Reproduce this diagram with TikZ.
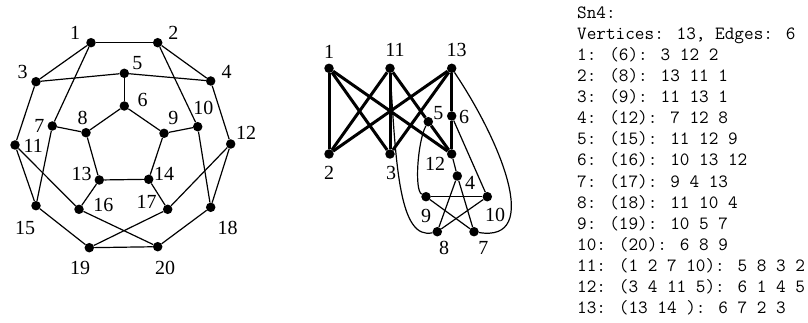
\documentclass[tikz,border=0pt]{standalone}
\usepackage{fontspec}
\newfontfamily\labfont{Liberation Serif}
\begin{document}
\begin{tikzpicture}[x=1pt,y=-1pt,
  dot/.style={circle,fill=black,inner sep=0pt,minimum size=9.5pt},
  lab/.style={font=\labfont\fontsize{20}{20}\selectfont,inner sep=0pt},
  ln/.style={line width=1.2pt},
  thk/.style={line width=3pt},
  txt/.style={font=\ttfamily\fontsize{18.7}{21}\selectfont,inner sep=0pt,anchor=base west}]
\useasboundingbox (0,0) rectangle (808,323);
% ---------- left graph ----------
\foreach \n/\x/\y in {1/91/42.7,2/157.7/42.7,3/36/81.7,4/210.7/81,5/124.3/73.3,6/124.3/106,
  7/52.3/126,8/86/132.7,9/164/133.3,10/197.7/126.7,11/15/145,12/230.7/144,13/99.3/180,
  14/148.7/179.3,15/36/205.7,16/79/209.3,17/167.7/209.3,18/210.7/207.3,19/89.3/247.7,20/157.7/246.7}
  \node[dot] (a\n) at (\x,\y) {};
\foreach \u/\v in {1/2,1/3,1/7,2/4,2/10,3/5,5/4,5/6,6/8,6/9,8/7,9/10,8/13,9/14,13/14,13/16,14/17,
  3/11,4/12,7/15,10/18,11/15,11/16,16/20,12/17,17/19,12/18,15/19,18/20,19/20}
  \draw[ln] (a\u) -- (a\v);
\foreach \n/\x/\y in {1/75/33.3,2/173.3/33.3,3/22.7/71.7,5/137.3/63.3,4/226.7/71.7,6/142.7/100,
  8/82.7/117.7,9/173.3/118.3,10/203.3/108.3,7/39.3/126,11/33.3/146,12/246/132.7,13/81.7/174.3,
  14/164/174,16/103.3/205,17/146.7/201.7,15/25/228.3,18/227.7/228.3,19/80/268.3,20/165/268.3}
  \node[lab] (la\n) at (\x,\y) {\n};
% ---------- middle graph ----------
\foreach \n/\x/\y in {1/329/68.3,11/390/68.3,13/451.7/68.3,2/329/154,3/390/154,12/451.7/154,
  5/428.3/121.7,6/451.7/116,4/457.3/176,9/426/196.7,10/487.3/196.7,8/437.3/231.7,7/474/231.7}
  \node[dot] (b\n) at (\x,\y) {};
\foreach \u/\v in {1/2,1/3,1/12,11/2,11/3,11/5,5/12,13/2,13/3,13/6,6/12}
  \draw[thk] (b\u) -- (b\v);
\foreach \u/\v in {12/4,4/7,4/8,9/10,9/7,10/8,6/10}
  \draw[ln] (b\u) -- (b\v);
\draw[ln] (b11) .. controls (396,170) and (400,240) .. (b8);
\draw[ln] (b13) .. controls (500,140) and (543,243) .. (b7);
\draw[ln] (b5) .. controls (418,140) and (414,190) .. (b9);
\foreach \n/\x/\y in {1/329/51.7,11/395/50,13/456.7/50,2/329/172.7,3/391/172.7,12/435/164,
  5/438.3/112.7,6/464/117.3,4/470/182.7,9/426/216,10/495/215,8/444/248.3,7/483.3/248.3}
  \node[lab] (lb\n) at (\x,\y) {\n};
% ---------- text ----------
\foreach \i/\s in {0/{Sn4:},1/{Vertices: 13, Edges: 6},2/{1: (6): 3 12 2},3/{2: (8): 13 11 1},
  4/{3: (9): 11 13 1},5/{4: (12): 7 12 8},6/{5: (15): 11 12 9},7/{6: (16): 10 13 12},
  8/{7: (17): 9 4 13},9/{8: (18): 11 10 4},10/{9: (19): 10 5 7},11/{10: (20): 6 8 9},
  12/{11: (1 2 7 10): 5 8 3 2},13/{12: (3 4 11 5): 6 1 4 5},14/{13: (13 14 ): 6 7 2 3}}
  \node[txt] (t\i) at (577,18.3+21.1*\i) {\s};
\end{tikzpicture}
\end{document}
